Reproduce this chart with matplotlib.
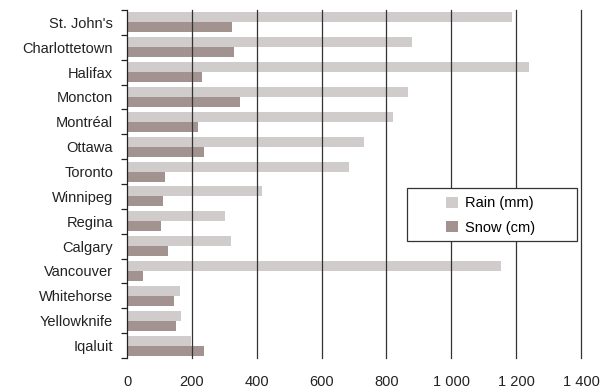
import matplotlib
matplotlib.use("Agg")
import matplotlib.pyplot as plt
import numpy as np
from matplotlib.patches import Rectangle
from matplotlib.ticker import FixedLocator, FuncFormatter

plt.rcParams['font.family'] = ['Liberation Sans', 'DejaVu Sans']

cities = ["St. John's", "Charlottetown", "Halifax", "Moncton", "Montréal",
          "Ottawa", "Toronto", "Winnipeg", "Regina", "Calgary", "Vancouver",
          "Whitehorse", "Yellowknife", "Iqaluit"]
rain_mm = [1188, 880, 1239, 865, 820, 732, 684, 416, 302, 320, 1153, 163, 166, 197]
snow_cm = [323, 330, 231, 348, 219, 237, 117, 111, 105, 126, 49, 145, 151, 237]
x_ticks = [0, 200, 400, 600, 800, 1000, 1200, 1400]

RAIN_COLOR = "#D0CCCC"
SNOW_COLOR = "#A39390"
FS = 10.5

W, H = 601, 390
AX_L, AX_R, AX_T, AX_B = 127, 581, 10, 358

fig = plt.figure(figsize=(W / 100, H / 100), dpi=100)
ax = fig.add_axes([AX_L / W, 1 - AX_B / H, (AX_R - AX_L) / W, (AX_B - AX_T) / H])


def axfrac(px, py):
    """Pixel position in the figure -> axes fraction."""
    return (px - AX_L) / (AX_R - AX_L), 1 - (py - AX_T) / (AX_B - AX_T)


y = np.arange(len(cities))
h = 0.4
ax.barh(y - h / 2, rain_mm, height=h, color=RAIN_COLOR, label="Rain (mm)", zorder=1)
ax.barh(y + h / 2, snow_cm, height=h, color=SNOW_COLOR, label="Snow (cm)", zorder=1)

ax.set_xlim(0, 1400)
ax.set_ylim(len(cities) - 0.5, -0.5)

# vertical gridlines drawn over the bars
for xv in x_ticks[1:]:
    ax.axvline(xv, color="#333333", linewidth=0.9, zorder=3, clip_on=False)

ax.xaxis.set_major_locator(FixedLocator(x_ticks))
ax.xaxis.set_major_formatter(FuncFormatter(lambda v, p: f"{int(v):,}".replace(",", " ")))
ax.tick_params(axis="x", length=0, pad=12, labelsize=FS, colors="#222222")

ax.set_yticks(y)
ax.set_yticklabels(cities)
ax.yaxis.set_minor_locator(FixedLocator(np.arange(-0.5, len(cities), 1.0)))
ax.tick_params(axis="y", which="major", length=0, pad=10, labelsize=FS, colors="#222222")
ax.tick_params(axis="y", which="minor", length=4, width=0.9, direction="out", color="#222222")

for s in ["top", "right", "bottom"]:
    ax.spines[s].set_visible(False)
ax.spines["left"].set_color("#222222")
ax.spines["left"].set_linewidth(0.9)
ax.spines["left"].set_zorder(4)

# legend box (wide white frame) with the entries inside
x0, y1 = axfrac(407, 188)
x1, y0 = axfrac(577, 241)
ax.add_patch(Rectangle((x0, y0), x1 - x0, y1 - y0, transform=ax.transAxes,
                       facecolor="white", edgecolor="#333333", linewidth=0.9,
                       zorder=5, clip_on=False))
leg = ax.legend(loc="center left", bbox_to_anchor=axfrac(446, 215.5),
                frameon=False, fontsize=FS, handlelength=0.85, handleheight=0.75,
                borderpad=0, labelspacing=0.7, handletextpad=0.45, borderaxespad=0)
leg.set_zorder(6)

fig.savefig("out.png", dpi=100)
